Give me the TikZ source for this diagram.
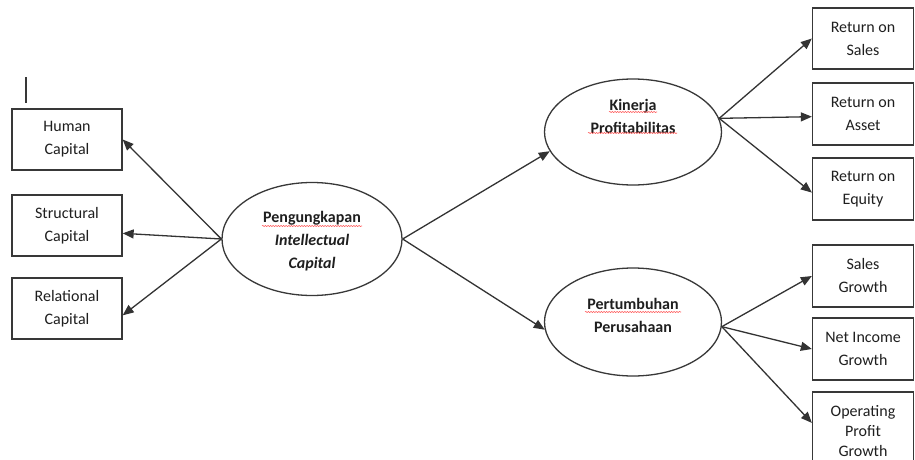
\documentclass[tikz,border=0pt]{standalone}
\usepackage{fontspec}
\setmainfont{Carlito}
\usetikzlibrary{arrows.meta,shapes.geometric,decorations.pathmorphing}

\tikzset{
  ink/.style={draw=black!78, line width=1.3pt},
  box/.style={ink, rectangle, align=center, inner sep=0pt,
    text=black!88, font=\fontsize{16}{23}\selectfont},
  ell/.style={ink, ellipse, inner sep=0pt},
  etext/.style={align=center, inner sep=0pt, text=black!88,
    font=\fontsize{16}{23}\selectfont\bfseries},
  arr/.style={draw=black!80, line width=1.3pt,
    -{Triangle[length=11pt,width=9pt]}},
  squiggle/.style={draw=red!65, line width=0.55pt,
    decorate, decoration={snake, amplitude=0.6pt, segment length=2.6pt}}
}

\begin{document}
\begin{tikzpicture}[x=1pt, y=-1pt]
  \fill[white] (0,0) rectangle (915,460);
  \useasboundingbox (0,0) rectangle (915,460);

  % stray tick above the first box
  \coordinate (tickTop) at (26,77);
  \coordinate (tickBot) at (26,103);
  \draw[ink] (tickTop) -- (tickBot);

  % left-hand indicator boxes
  \node[box, minimum width=110pt, minimum height=61pt] (hc) at (67,139.5) {Human\\Capital};
  \node[box, minimum width=110pt, minimum height=61pt] (sc) at (67,225.5) {Structural\\Capital};
  \node[box, minimum width=110pt, minimum height=61pt] (rc) at (67,308.5) {Relational\\Capital};

  % central construct
  \node[ell, minimum width=180pt, minimum height=113pt] (ic) at (312,239) {};
  \node[etext] (ict) at (312,241) {Pengungkapan\\\textit{Intellectual}\\\textit{Capital}};

  % outcome constructs
  \node[ell, minimum width=177pt, minimum height=106pt] (kin) at (633,132) {};
  \node[etext] (kint) at (633,116) {Kinerja\\Profitabilitas};
  \node[ell, minimum width=177pt, minimum height=108pt] (pert) at (633,322) {};
  \node[etext] (pertt) at (633,315) {Pertumbuhan\\Perusahaan};

  % right-hand indicator boxes
  \node[box, minimum width=101pt, minimum height=61pt] (ros) at (863,38.5) {Return on\\Sales};
  \node[box, minimum width=101pt, minimum height=62pt] (roa) at (863,114) {Return on\\Asset};
  \node[box, minimum width=101pt, minimum height=62pt] (roe) at (863,189) {Return on\\Equity};
  \node[box, minimum width=101pt, minimum height=62pt] (sg)  at (863,276) {Sales\\Growth};
  \node[box, minimum width=101pt, minimum height=62pt] (ni)  at (863,349) {Net Income\\Growth};
  \node[box, minimum width=101pt, minimum height=78pt,
        font=\fontsize{16}{20}\selectfont] (opg) at (863,431) {Operating\\Profit\\Growth};

  % spell-check underlines
  \draw[squiggle] (262,226) -- (362,226);
  \draw[squiggle] (609,112) -- (657,112);
  \draw[squiggle] (588,133) -- (677,133);
  \draw[squiggle] (585,312) -- (681,312);

  % connectors
  \draw[arr] (ic.west) -- (hc.east);
  \draw[arr] (ic.west) -- (sc.-8);
  \draw[arr] (ic.west) -- (rc.-7);
  \draw[arr] (ic.east) -- (kin.193);
  \draw[arr] (ic.east) -- (pert.185);
  \draw[arr] (kin.9) -- (ros.west);
  \draw[arr] (kin.9) -- (roa.183);
  \draw[arr] (kin.9) -- (roe.184.5);
  \draw[arr] (pert.-3) -- (sg.west);
  \draw[arr] (pert.-3) -- (ni.west);
  \draw[arr] (pert.-3) -- (opg.171);
\end{tikzpicture}
\end{document}
